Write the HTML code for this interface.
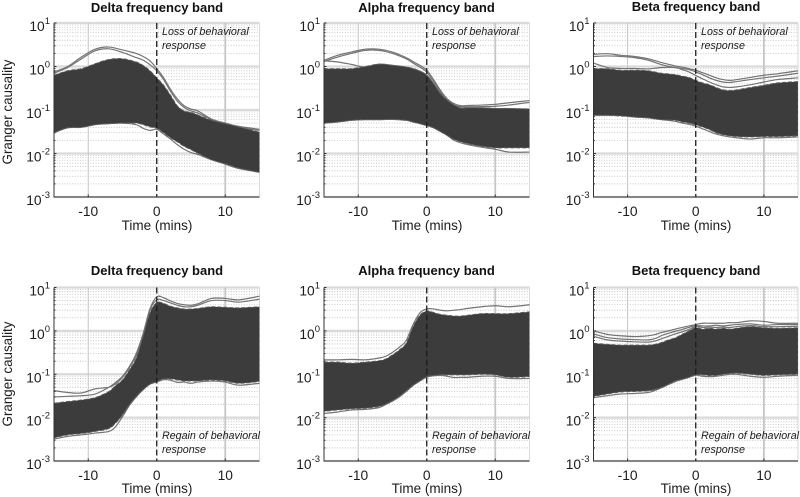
<!DOCTYPE html>
<html>
<head>
<meta charset="utf-8">
<title>Granger causality by frequency band</title>
<style>
html,body{margin:0;padding:0;background:#fff;width:800px;height:497px;overflow:hidden}
svg{display:block;filter:blur(0.35px)}
text{font-family:"Liberation Sans",Arial,sans-serif;fill:#1c1c1c}
.title{font-size:13px;font-weight:bold;text-anchor:middle;fill:#111}
.xl{font-size:13.5px;text-anchor:middle}
.yl{font-size:13.4px;text-anchor:middle}
.note{font-size:10.7px;font-style:italic}
.tick{font-size:13.8px}
</style>
</head>
<body>
<svg id="chart" width="800" height="497" viewBox="0 0 800 497" xmlns="http://www.w3.org/2000/svg">
  <g id="plots"></g>

  <text class="title" x="157" y="12">Delta frequency band</text>
  <text class="title" x="426.5" y="12">Alpha frequency band</text>
  <text class="title" x="696" y="11">Beta frequency band</text>
  <text class="title" x="157" y="275">Delta frequency band</text>
  <text class="title" x="426.5" y="275">Alpha frequency band</text>
  <text class="title" x="696" y="275">Beta frequency band</text>

  <text class="xl" x="157" y="230">Time (mins)</text>
  <text class="xl" x="427" y="230">Time (mins)</text>
  <text class="xl" x="696" y="230">Time (mins)</text>
  <text class="xl" x="157" y="493">Time (mins)</text>
  <text class="xl" x="427" y="493">Time (mins)</text>
  <text class="xl" x="696" y="493">Time (mins)</text>

  <text class="yl" transform="translate(12,112) rotate(-90)">Granger causality</text>
  <text class="yl" transform="translate(12,374) rotate(-90)">Granger causality</text>

  <text class="note" x="162" y="35">Loss of behavioral</text>
  <text class="note" x="162" y="49">response</text>
  <text class="note" x="432" y="35">Loss of behavioral</text>
  <text class="note" x="432" y="49">response</text>
  <text class="note" x="701" y="35">Loss of behavioral</text>
  <text class="note" x="701" y="49">response</text>
  <text class="note" x="162" y="439">Regain of behavioral</text>
  <text class="note" x="162" y="453">response</text>
  <text class="note" x="432" y="439">Regain of behavioral</text>
  <text class="note" x="432" y="453">response</text>
  <text class="note" x="701" y="439">Regain of behavioral</text>
  <text class="note" x="701" y="453">response</text>
</svg>

<script>
// Shared time samples (minutes)
const lossTimes = [-15,-13,-11,-9,-7,-5,-3,-2,-1,0,1,2,3,4,5,6,8,10,12,15];
const regainTimes = [-15,-13,-11,-9,-7,-6,-5,-4,-3,-2,-1,0,1,2,3,4,5,6,8,10,12,15];

// Tick values and labels
const xTickValues = [-10,0,10];
const xTickLabels = ['-10','0','10'];
const yTickExponents = [1,0,-1,-2,-3];

// Delta, loss of response
const deltaLossUpper = [.63,.8,.89,1.16,1.45,1.51,1.27,1.06,.8,.55,.37,.22,.125,.095,.088,.077,.058,.0485,.0407,.031];
const deltaLossLower = [.03,.039,.04,.046,.0485,.05,.05,.046,.041,.038,.03,.023,.0185,.0146,.0122,.0101,.0072,.0058,.0046,.0037];
const deltaLossOuterA = [.75,1.0,1.65,2.5,2.8,2.4,2.0,1.7,1.35,.9,.55,.3,.18,.125,.105,.095,.062,.05,.042,.036];
const deltaLossOuterB = [.7,.95,1.5,2.3,2.55,2.1,1.6,1.4,1.1,.8,.5,.27,.16,.115,.095,.085,.06,.048,.04,.034];
const deltaLossOuterC = [.03,.039,.04,.046,.0485,.05,.046,.038,.034,.036,.028,.0215,.016,.0125,.0105,.0095,.0072,.0057,.0045,.0037];

// Alpha, loss of response
const alphaLossUpper = [.89,.89,.89,1.0,1.13,1.06,.97,.89,.78,.63,.40,.237,.167,.13,.11,.112,.112,.108,.108,.105];
const alphaLossLower = [.05,.053,.058,.06,.06,.061,.058,.053,.0485,.044,.039,.032,.026,.021,.0185,.0168,.0147,.0135,.0135,.0135];
const alphaLossOuterA = [1.39,1.81,2.15,2.5,2.5,2.15,1.6,1.3,1.06,.82,.5,.283,.18,.14,.125,.127,.13,.135,.147,.165];
const alphaLossOuterB = [1.3,1.65,2.0,2.35,2.35,2.0,1.5,1.2,.97,.74,.45,.26,.165,.13,.118,.118,.12,.122,.13,.15];
const alphaLossOuterC = [1.35,1.27,1.12,.97,1.13,1.06,.97,.89,.78,.63,.40,.237,.167,.13,.11,.112,.112,.108,.108,.105];
const alphaLossOuterD = [.05,.053,.058,.06,.06,.061,.058,.053,.0485,.044,.039,.032,.026,.02,.0175,.016,.014,.0125,.0108,.0108];

// Beta, loss of response
const betaLossUpper = [.89,.89,.82,.82,.8,.7,.65,.6,.56,.48,.42,.38,.33,.29,.28,.29,.33,.37,.42,.45];
const betaLossLower = [.0755,.0755,.073,.069,.066,.06,.058,.053,.05,.0455,.0407,.0355,.03,.027,.0255,.0245,.024,.0245,.0245,.0255];
const betaLossOuterA = [1.9,1.97,1.81,1.7,1.51,1.23,1.03,.97,.89,.82,.72,.63,.55,.5,.48,.5,.56,.63,.68,.8];
const betaLossOuterB = [1.7,1.75,1.7,1.6,1.4,1.1,.95,.9,.85,.75,.65,.55,.48,.44,.43,.45,.5,.55,.6,.7];
const betaLossOuterC = [1.2,.95,.9,.9,.88,.95,.95,.85,.75,.62,.52,.44,.38,.34,.33,.34,.38,.44,.5,.55];
const betaLossOuterD = [.0755,.0755,.075,.069,.066,.06,.055,.05,.047,.0425,.037,.032,.028,.0255,.024,.023,.0215,.023,.023,.024];

// Delta, regain of response
const deltaRegainUpper = [.0215,.0235,.0255,.029,.04,.055,.074,.125,.235,.74,2.6,4.5,4.3,3.7,3.4,3.2,3.2,3.3,3.6,3.5,3.4,3.6];
const deltaRegainLower = [.0034,.004,.0043,.0048,.0056,.0075,.0115,.0198,.0308,.044,.059,.068,.078,.078,.074,.07,.07,.07,.074,.07,.062,.068];
const deltaRegainOuterA = [.03,.031,.032,.035,.05,.065,.09,.15,.3,.85,3.2,6.1,5.8,4.9,4.3,4.0,3.9,4.2,5.6,5.6,5.2,6.3];
const deltaRegainOuterB = [.042,.038,.037,.046,.05,.06,.085,.14,.27,.8,3.0,5.2,5.0,4.4,3.9,3.6,3.6,3.9,5.0,5.0,4.6,5.4];
const deltaRegainOuterC = [.0032,.0037,.004,.0044,.0048,.0062,.0105,.019,.03,.044,.059,.066,.075,.073,.065,.066,.062,.066,.07,.066,.056,.062];

// Alpha, regain of response
const alphaRegainUpper = [.19,.19,.18,.19,.205,.225,.28,.365,.52,1.25,2.3,2.85,2.65,2.4,2.3,2.2,2.2,2.3,2.5,2.5,2.5,2.75];
const alphaRegainLower = [.014,.015,.016,.0165,.018,.0205,.0245,.031,.0415,.056,.07,.088,.094,.097,.097,.097,.097,.097,.1,.097,.085,.088];
const alphaRegainOuterA = [.215,.215,.22,.215,.235,.26,.32,.42,.6,1.4,2.6,3.2,3.2,3.0,2.9,3.0,3.1,3.3,3.6,3.8,3.6,4.0];
const alphaRegainOuterB = [.0125,.0135,.015,.0155,.017,.02,.024,.03,.04,.055,.07,.086,.092,.095,.09,.084,.085,.085,.09,.09,.08,.08];

// Beta, regain of response
const betaRegainUpper = [.52,.49,.47,.47,.47,.49,.54,.62,.69,.83,1.0,1.18,1.1,1.15,1.1,1.15,1.1,1.15,1.25,1.18,1.15,1.18];
const betaRegainLower = [.031,.035,.039,.04,.0415,.044,.05,.059,.07,.077,.085,.097,.097,.093,.094,.1,.104,.106,.1,.094,.097,.1];
const betaRegainOuterA = [1.0,.83,.77,.74,.77,.82,.92,1.0,1.1,1.2,1.3,1.4,1.5,1.5,1.5,1.5,1.55,1.55,1.7,1.65,1.5,1.5];
const betaRegainOuterB = [.85,.7,.65,.63,.62,.66,.78,.88,.98,1.08,1.2,1.32,1.3,1.3,1.35,1.3,1.35,1.4,1.45,1.35,1.4,1.4];
const betaRegainOuterC = [.029,.032,.035,.036,.038,.042,.049,.058,.068,.076,.085,.095,.09,.088,.09,.095,.1,.1,.09,.085,.09,.095];
const betaRegainOuterD = [.75,.62,.58,.56,.55,.58,.66,.75,.85,.95,1.08,1.25,1.2,1.22,1.2,1.22,1.2,1.25,1.32,1.25,1.25,1.28];

const NS = 'http://www.w3.org/2000/svg';
const plots = document.getElementById('plots');

function mk(tag, attrs, parent) {
  const e = document.createElementNS(NS, tag);
  for (const k in attrs) e.setAttribute(k, attrs[k]);
  parent.appendChild(e);
  return e;
}

// Catmull-Rom spline through points, as SVG path commands (without the initial move)
function spline(pts) {
  let d = '';
  for (let i = 0; i < pts.length - 1; i++) {
    const p0 = pts[Math.max(i - 1, 0)], p1 = pts[i], p2 = pts[i + 1], p3 = pts[Math.min(i + 2, pts.length - 1)];
    const c1x = p1[0] + (p2[0] - p0[0]) / 6, c1y = p1[1] + (p2[1] - p0[1]) / 6;
    const c2x = p2[0] - (p3[0] - p1[0]) / 6, c2y = p2[1] - (p3[1] - p1[1]) / 6;
    d += 'C' + c1x.toFixed(2) + ' ' + c1y.toFixed(2) + ' ' + c2x.toFixed(2) + ' ' + c2y.toFixed(2) + ' ' + p2[0].toFixed(2) + ' ' + p2[1].toFixed(2);
  }
  return d;
}

let clipCount = 0;

function drawPanel(key, box, times, upper, lower, outers) {
  const w = box.right - box.left, h = box.bottom - box.top;
  const x = t => box.left + (t + 15) / 30 * w;
  const y = v => box.top + (1 - Math.log10(v)) / 4 * h;

  const g = mk('g', {}, plots);
  
  

  // Minor horizontal grid
  const minor = mk('g', {stroke: '#bdbdbd', 'stroke-width': 0.8, 'stroke-dasharray': '1 1.6'}, g);
  
  
  for (let e = -3; e < 1; e++) {
    for (let m = 2; m < 10; m++) {
      const yy = y(m * Math.pow(10, e));
      mk('line', {x1: box.left, x2: box.right, y1: yy, y2: yy}, minor);
    }
  }

  // Major horizontal grid
  const major = mk('g', {stroke: '#dadada', 'stroke-width': 2.2}, g);
  
  
  yTickExponents.forEach(e => {
    const yy = y(Math.pow(10, e));
    mk('line', {x1: box.left, x2: box.right, y1: yy, y2: yy}, major);
  });
  xTickValues.forEach(t => {
    if (t !== 0) mk('line', {x1: x(t), x2: x(t), y1: box.top, y2: box.bottom, 'stroke-width': t > 0 ? 1.8 : 1, stroke: '#c6c6c6'}, major);
  });
  mk('line', {x1: box.right, x2: box.right, y1: box.top, y2: box.bottom, 'stroke-width': 1, stroke: '#dadada'}, major);

  // Clip
  const id = 'clip' + (clipCount++);
  const cp = mk('clipPath', {id: id}, g);
  mk('rect', {x: box.left, y: box.top, width: w, height: h}, cp);
  const series = mk('g', {'clip-path': 'url(#' + id + ')'}, g);
  
  

  // Outlying traces
  outers.forEach((vals, i) => {
    const pts = times.map((t, j) => [x(t), y(vals[j])]);
    const line = mk('path', {d: 'M' + pts[0][0] + ' ' + pts[0][1] + spline(pts), fill: 'none', stroke: '#747474', 'stroke-width': 1.2}, series);
    
    
  });

  // Dense band of traces
  const up = times.map((t, j) => [x(t), y(upper[j])]);
  const lo = times.map((t, j) => [x(t), y(lower[j])]).reverse();
  const band = mk('path', {
    d: 'M' + up[0][0] + ' ' + up[0][1] + spline(up) + 'L' + lo[0][0] + ' ' + lo[0][1] + spline(lo) + 'Z',
    fill: '#3c3c3c', stroke: '#5c5c5c', 'stroke-width': 1, 'stroke-dasharray': '4 2'
  }, series);
  
  

  // Event line at t = 0
  const ev = mk('line', {x1: x(0), x2: x(0), y1: box.top, y2: box.bottom, stroke: '#1c1c1c', 'stroke-width': 1.3, 'stroke-dasharray': '6 3'}, g);
  
  

  // Axes
  const axis = mk('g', {stroke: '#333', 'stroke-width': 1, fill: 'none'}, g);
  
  
  mk('path', {d: 'M' + box.left + ' ' + box.top + 'V' + box.bottom + 'H' + box.right}, axis);
  for (let e = -3; e < 1; e++) {
    for (let m = 1; m < 10; m++) {
      const yy = y(m * Math.pow(10, e));
      mk('line', {x1: box.left, x2: box.left + (m === 1 ? 2.5 : 1.5), y1: yy, y2: yy}, axis);
    }
  }
  mk('line', {x1: box.left, x2: box.left + 2.5, y1: box.top, y2: box.top}, axis);
  xTickValues.forEach(t => {
    mk('line', {x1: x(t), x2: x(t), y1: box.bottom, y2: box.bottom - 2.5}, axis);
  });

  // X tick labels
  xTickValues.forEach((t, i) => {
    const lab = mk('text', {class: 'tick', x: x(t), y: box.bottom + 19, 'text-anchor': 'middle'}, g);
    
    
    lab.textContent = xTickLabels[i];
  });

  // Y tick labels
  yTickExponents.forEach(e => {
    const yy = y(Math.pow(10, e));
    const lab = mk('text', {class: 'tick', x: box.left - 4, y: yy + 8, 'text-anchor': 'end'}, g);
    
    
    const b = mk('tspan', {}, lab);
    b.textContent = '10';
    const s = mk('tspan', {dy: -7, 'font-size': 9.5}, lab);
    s.textContent = String(e);
  });
}

const topRow = {top: 23, bottom: 197};
const bottomRow = {top: 287.5, bottom: 461};
const col1 = {left: 54, right: 259.5};
const col2 = {left: 324, right: 529.5};
const col3 = {left: 593.5, right: 798};

drawPanel('delta-loss', Object.assign({}, topRow, col1), lossTimes, deltaLossUpper, deltaLossLower, [deltaLossOuterA, deltaLossOuterB, deltaLossOuterC]);
drawPanel('alpha-loss', Object.assign({}, topRow, col2), lossTimes, alphaLossUpper, alphaLossLower, [alphaLossOuterA, alphaLossOuterB, alphaLossOuterC, alphaLossOuterD]);
drawPanel('beta-loss', Object.assign({}, topRow, col3), lossTimes, betaLossUpper, betaLossLower, [betaLossOuterA, betaLossOuterB, betaLossOuterC, betaLossOuterD]);
drawPanel('delta-regain', Object.assign({}, bottomRow, col1), regainTimes, deltaRegainUpper, deltaRegainLower, [deltaRegainOuterA, deltaRegainOuterB, deltaRegainOuterC]);
drawPanel('alpha-regain', Object.assign({}, bottomRow, col2), regainTimes, alphaRegainUpper, alphaRegainLower, [alphaRegainOuterA, alphaRegainOuterB]);
drawPanel('beta-regain', Object.assign({}, bottomRow, col3), regainTimes, betaRegainUpper, betaRegainLower, [betaRegainOuterA, betaRegainOuterB, betaRegainOuterC, betaRegainOuterD]);
</script>
</body>
</html>
